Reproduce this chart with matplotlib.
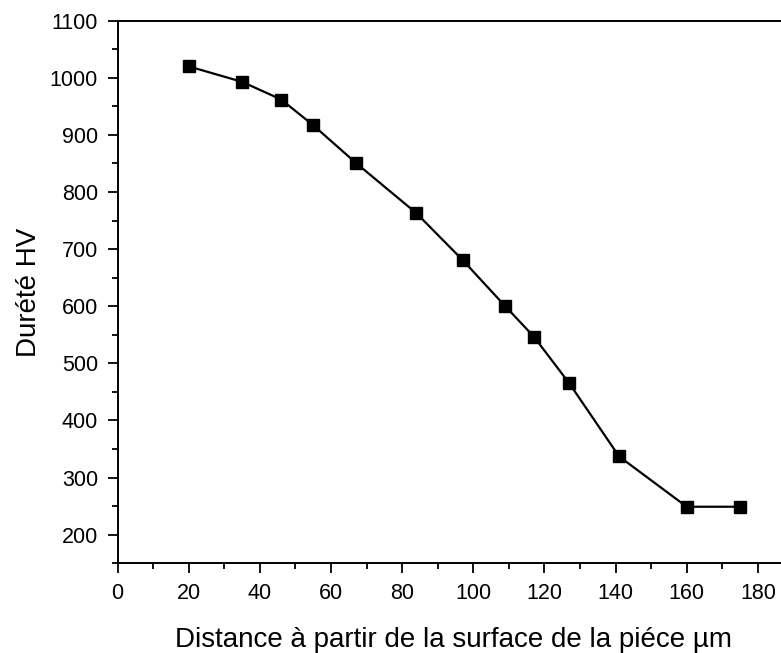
import numpy as np
import matplotlib
matplotlib.use('Agg')
import matplotlib.pyplot as plt
from matplotlib.ticker import MultipleLocator

plt.rcParams['font.family'] = ['Liberation Sans', 'DejaVu Sans']

# hardness profile
distance = [20, 35, 46, 55, 67, 84, 97, 109, 117, 127, 141, 160, 175]
hardness = [1020, 993, 962, 917, 851, 763, 681, 600, 547, 465, 337, 249, 249]

fig = plt.figure(figsize=(7.81, 6.53), dpi=100)
ax = fig.add_axes([0.1505, 0.1374, 0.8595, 0.8309])

ax.plot(distance, hardness, color='black', lw=1.6, marker='s', ms=8.5,
        markerfacecolor='black', markeredgecolor='black')

ax.set_xlim(0, 188.7)
ax.set_ylim(150, 1100)
ax.xaxis.set_major_locator(MultipleLocator(20))
ax.xaxis.set_minor_locator(MultipleLocator(10))
ax.yaxis.set_major_locator(MultipleLocator(100))
ax.yaxis.set_minor_locator(MultipleLocator(50))
ax.set_yticks(np.arange(200, 1101, 100))

ax.tick_params(which='major', direction='out', length=7, width=1.3, labelsize=15.5)
ax.tick_params(axis='x', which='major', pad=7)
ax.tick_params(axis='y', which='major', pad=7)
ax.tick_params(which='minor', direction='out', length=4, width=1.3)
ax.tick_params(top=False, right=False)
for s in ax.spines.values():
    s.set_linewidth(1.4)
ax.spines['right'].set_visible(False)

ax.set_xlabel('Distance à partir de la surface de la piéce µm', fontsize=20)
ax.set_ylabel('Durété HV', fontsize=20)
ax.xaxis.set_label_coords(0.5, -0.118)
ax.yaxis.set_label_coords(-0.112, 0.5)

fig.savefig('out.png', dpi=100)
